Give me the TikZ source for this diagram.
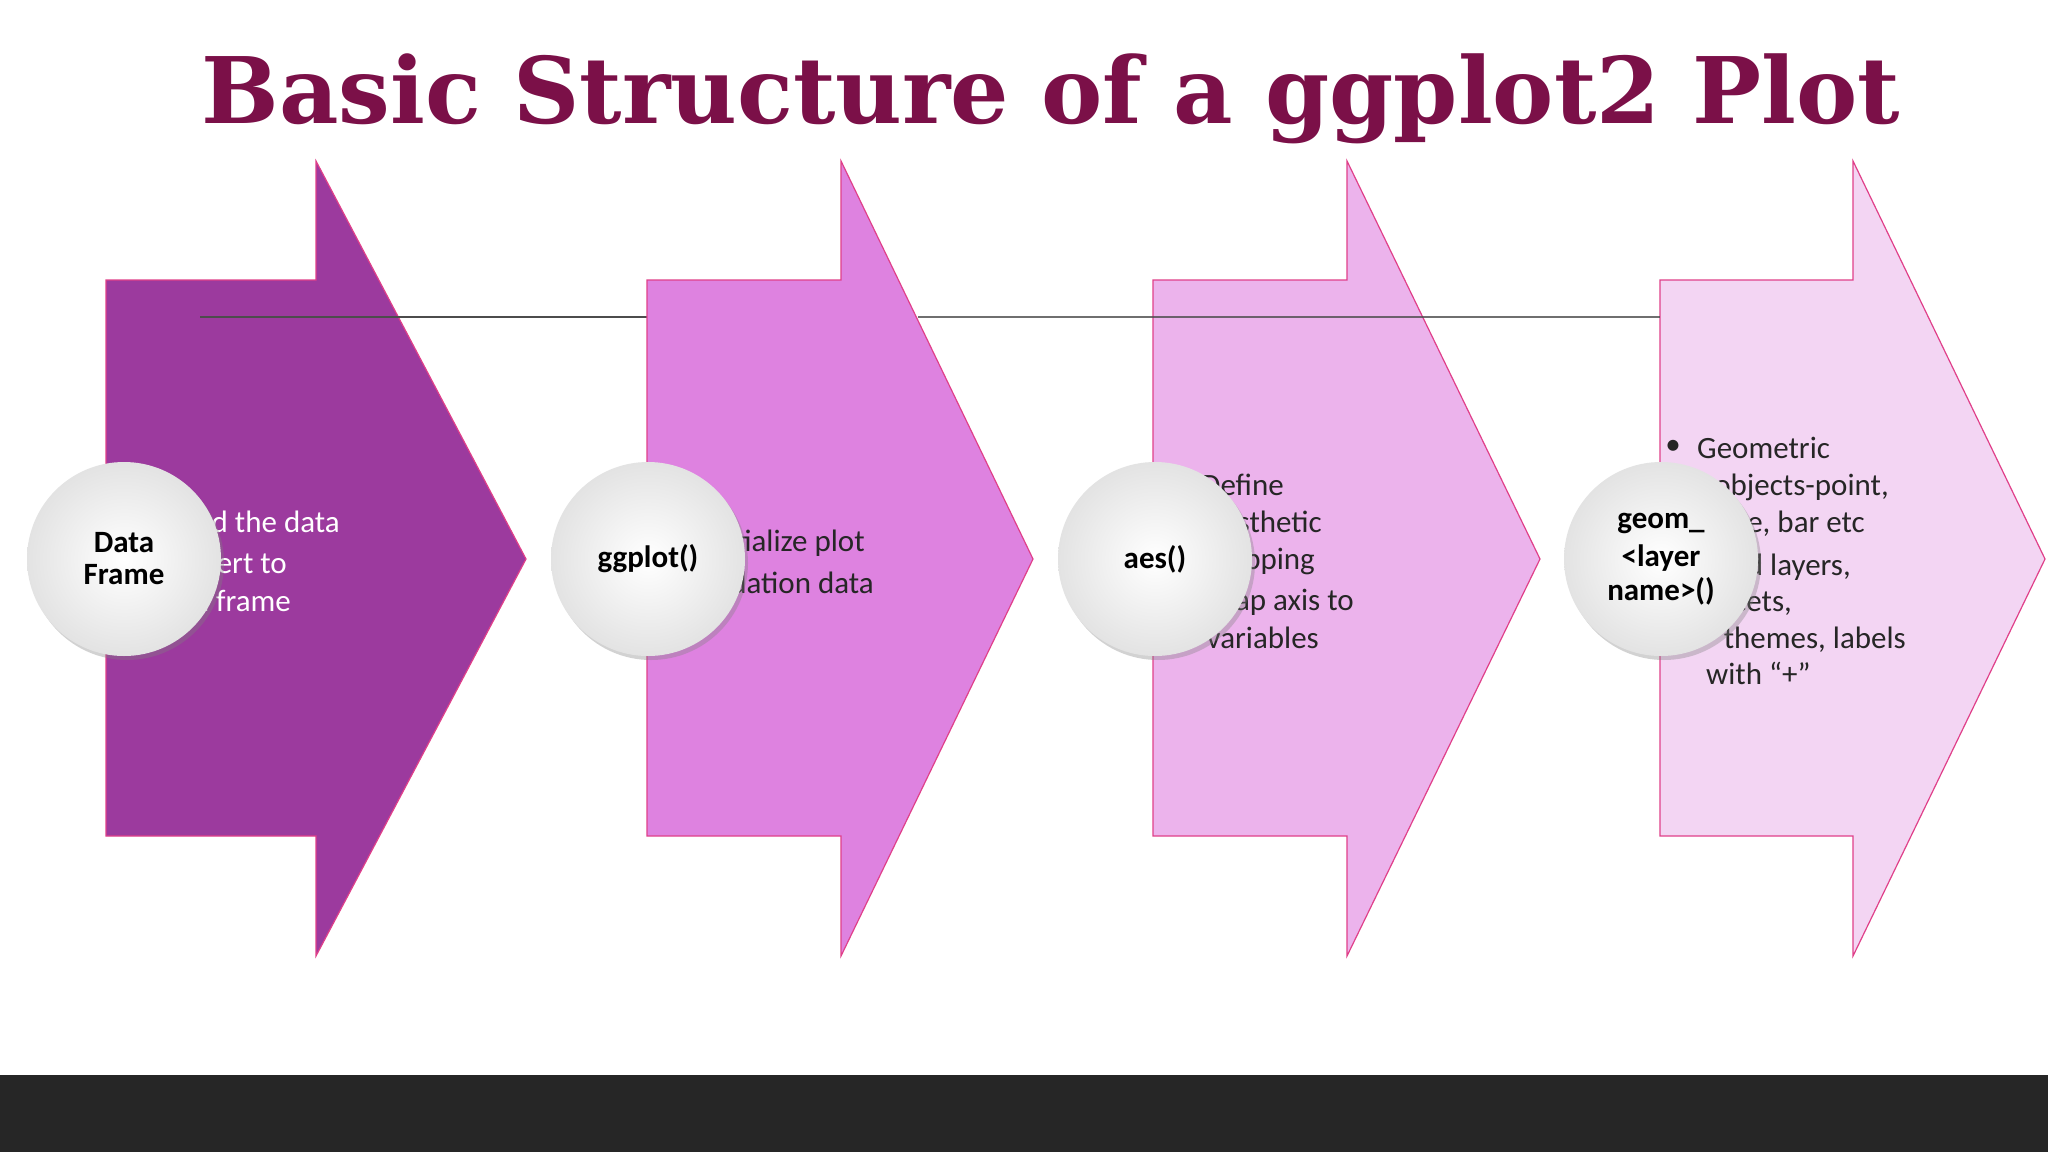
\documentclass[tikz,border=0pt]{standalone}
\usepackage{fontspec}
\usepackage{graphicx}
\setmainfont{Carlito}
\newfontfamily\titlefont{DejaVu Serif}
\usetikzlibrary{shadows}
\definecolor{aone}{HTML}{9C3A9E}
\definecolor{atwo}{HTML}{DE82E0}
\definecolor{athree}{HTML}{ECB3EC}
\definecolor{afour}{HTML}{F3D5F3}
\definecolor{aedge}{HTML}{E0408A}
\definecolor{ttl}{HTML}{7B1048}
\begin{document}
\begin{tikzpicture}[x=1pt,y=-1pt,
  chev/.style={draw=aedge,line width=1.2pt},
  bubble/.style={circle,minimum size=194pt,inner sep=0pt,shade,inner color=white,outer color=gray!22,
     drop shadow={shadow xshift=3pt,shadow yshift=-4pt,opacity=0.35},font=\fontsize{31}{36}\selectfont\bfseries,align=center,text=black},
  wline/.style={anchor=mid east,font=\fontsize{31}{36}\selectfont,inner sep=0pt,text=white},
  bline/.style={wline,text=black!85}]
\useasboundingbox (0,0) rectangle (2048,1152);
\fill[white] (0,0) rectangle (2048,1152);
\fill[black!85] (0,1075) rectangle (2048,1152);
\node (title) at (1051,99) {\resizebox{1698pt}{!}{\titlefont\bfseries\color{ttl}Basic Structure of a ggplot2 Plot}};
% arrows
\draw[chev,fill=aone] (106,280) -- (316,280) -- (316,161) -- (526,559) -- (316,956) -- (316,836) -- (106,836) -- cycle;
\draw[black!70,line width=1.2pt] (200,317) -- (647,317);
\draw[chev,fill=atwo] (647,280) -- (841,280) -- (841,161) -- (1033,559) -- (841,956) -- (841,836) -- (647,836) -- cycle;
\draw[chev,fill=athree] (1153,280) -- (1347,280) -- (1347,161) -- (1540,559) -- (1347,956) -- (1347,836) -- (1153,836) -- cycle;
\draw[chev,fill=afour] (1660,280) -- (1853,280) -- (1853,161) -- (2045,559) -- (1853,956) -- (1853,836) -- (1660,836) -- cycle;
\draw[black!70,line width=1.2pt,opacity=0.8] (918,317) -- (1660,317);
% texts
\begin{scope}[yshift=-11pt]
\node[wline] (t1a) at (340,519) {Load the data};
\node[wline] (t1b) at (287,560) {convert to};
\node[wline] (t1c) at (291,598) {data frame};
\node[bline] (t2a) at (865,538) {Initialize plot};
\node[bline] (t2b) at (874,580) {foundation data};
\node[bline] (t3a) at (1284,482) {Define};
\node[bline] (t3b) at (1322,519) {aesthetic};
\node[bline] (t3c) at (1315,556) {mapping};
\node[bline] (t3d) at (1354,597) {map axis to};
\node[bline] (t3e) at (1319,635) {variables};
\node[bline,anchor=mid] (bul) at (1673,441) {\textbullet};
\node[bline,anchor=mid west] (t4a) at (1697,445) {Geometric};
\node[bline] (t4b) at (1889,482) {objects-point,};
\node[bline] (t4c) at (1865,519) {line, bar etc};
\node[bline] (t4d) at (1851,562) {Add layers,};
\node[bline] (t4e) at (1792,598) {facets,};
\node[bline] (t4f) at (1906,635) {themes, labels};
\node[bline,anchor=mid west] (t4g) at (1706,671) {with “+”};
\end{scope}
% bubbles
\node[bubble] (c1) at (124,559) {Data\\[-4pt]Frame};
\node[bubble] (c2) at (648,559) {ggplot()};
\node[bubble] (c3) at (1155,559) {aes()};
\node[bubble] (c4) at (1661,559) {geom\_\\[2pt]<layer\\[-2pt]name>()};
\end{tikzpicture}
\end{document}
